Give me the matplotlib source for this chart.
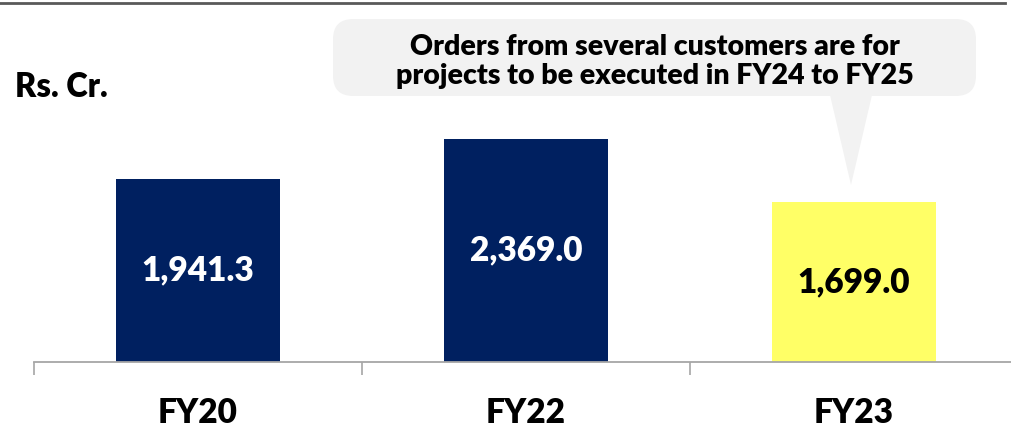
import matplotlib
matplotlib.use("Agg")
import matplotlib.pyplot as plt
from matplotlib.patches import FancyBboxPatch, Polygon
from matplotlib.lines import Line2D

# Order book, Rs. Cr.
years = ["FY20", "FY22", "FY23"]
values = [1941.3, 2369.0, 1699.0]
bar_colors = ["#002060", "#002060", "#FFFF66"]
label_colors = ["white", "white", "black"]
callout = "Orders from several customers are for\nprojects to be executed in FY24 to FY25"

plt.rcParams["font.family"] = ["Lato", "DejaVu Sans"]
plt.rcParams["font.weight"] = "bold"

W, H = 1011, 432
fig = plt.figure(figsize=(W / 100, H / 100), dpi=100)
ax = fig.add_axes([34 / W, 70 / H, 984 / W, 362 / H])

x = range(len(years))
ax.bar(x, values, width=0.5, color=bar_colors)
for i, v in enumerate(values):
    ax.text(i, v / 2, f"{v:,.1f}", ha="center", va="center",
            fontsize=24, fontweight="heavy", color=label_colors[i])

ax.set_xlim(-0.5, 2.5)
ax.set_ylim(0, 3845)
ax.set_yticks([])
for s in ["left", "right", "top"]:
    ax.spines[s].set_visible(False)
ax.spines["bottom"].set_color("#a6a6a6")
ax.spines["bottom"].set_linewidth(1.3)

ax.set_xticks(list(x))
ax.set_xticklabels(years, fontsize=24, fontweight="heavy")
ax.tick_params(axis="x", which="major", length=0, pad=25)
ax.set_xticks([-0.5, 0.5, 1.5, 2.5], minor=True)
ax.tick_params(axis="x", which="minor", length=9, width=1.2, color="#a6a6a6")

# top rule
fig.add_artist(Line2D([0, 1005 / W], [1 - 3 / H, 1 - 3 / H], color="#595959", lw=2,
                      transform=fig.transFigure))

fig.text(15 / W, 1 - 87 / H, "Rs. Cr.", fontsize=23.5, fontweight="heavy",
         ha="left", va="center")

# callout bubble
box = FancyBboxPatch((333 / W, 1 - 96 / H), (976 - 333) / W, 77 / H,
                     boxstyle="round,pad=0,rounding_size=0.02",
                     transform=fig.transFigure, facecolor="#F2F2F2", edgecolor="none",
                     mutation_aspect=W / H)
fig.add_artist(box)
tail = Polygon([(830 / W, 1 - 95 / H), (872 / W, 1 - 95 / H), (851 / W, 1 - 185 / H)],
               closed=True, transform=fig.transFigure, facecolor="#F2F2F2", edgecolor="none")
fig.add_artist(tail)
fig.text(655 / W, 1 - 61.5 / H, callout, fontsize=20.5, fontweight="heavy",
         ha="center", va="center", linespacing=1.1)

fig.savefig("out.png", dpi=100)
